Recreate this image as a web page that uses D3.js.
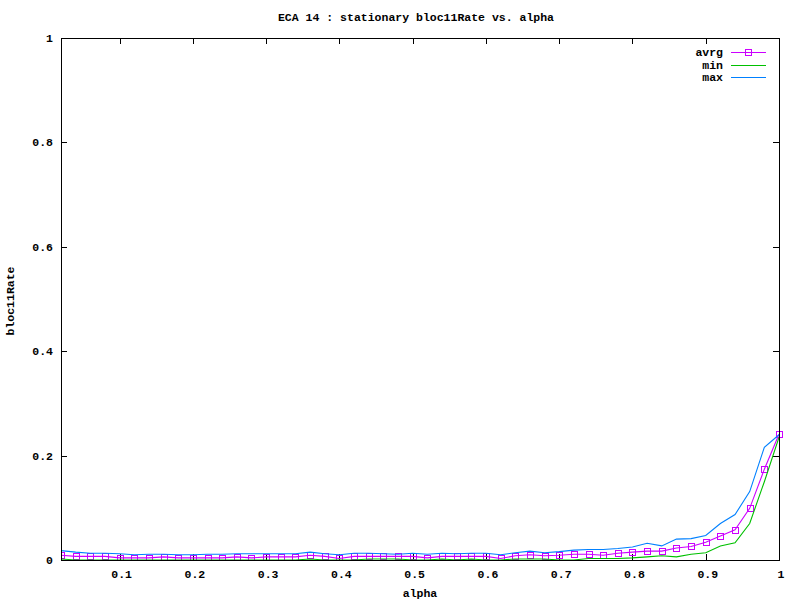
<!DOCTYPE html>
<html>
<head>
<meta charset="utf-8">
<script src="https://cdn.jsdelivr.net/npm/d3@7"></script>
<style>
  html, body { margin: 0; padding: 0; background: #fff; }
  svg text { font-family: "Liberation Mono", "DejaVu Sans Mono", monospace; font-weight: bold; font-size: 11.5px; fill: #000; }
</style>
</head>
<body>
<svg id="chart" width="800" height="600"></svg>
<script>
// ---- data ----
const alpha = [0.02,0.04,0.06,0.08,0.10,0.12,0.14,0.16,0.18,0.20,
               0.22,0.24,0.26,0.28,0.30,0.32,0.34,0.36,0.38,0.40,
               0.42,0.44,0.46,0.48,0.50,0.52,0.54,0.56,0.58,0.60,
               0.62,0.64,0.66,0.68,0.70,0.72,0.74,0.76,0.78,0.80,
               0.82,0.84,0.86,0.88,0.90,0.92,0.94,0.96,0.98,1.00];
const avrg = [0.009,0.007,0.007,0.007,0.004,0.004,0.004,0.006,0.004,0.004,
              0.004,0.004,0.006,0.004,0.006,0.006,0.006,0.009,0.007,0.003,
              0.007,0.007,0.007,0.007,0.007,0.004,0.007,0.007,0.007,0.007,
              0.003,0.008,0.010,0.008,0.009,0.011,0.011,0.009,0.013,0.015,
              0.017,0.017,0.023,0.026,0.034,0.046,0.058,0.099,0.174,0.241];
const minV = [0.002,0,0,0,0,0,0,0,0,0,
              0,0,0,0,0,0,0,0.002,0,0,
              0,0.002,0.002,0.002,0,0,0.002,0,0.002,0,
              0,0.002,0.002,0.002,0,0,0.003,0.003,0.003,0.004,
              0.006,0.008,0.006,0.011,0.014,0.027,0.033,0.070,0.150,0.235];
const maxV = [0.018,0.015,0.013,0.013,0.012,0.010,0.011,0.011,0.010,0.010,
              0.011,0.011,0.012,0.012,0.012,0.012,0.012,0.015,0.012,0.010,
              0.013,0.013,0.012,0.011,0.013,0.011,0.013,0.012,0.013,0.013,
              0.010,0.014,0.017,0.014,0.016,0.019,0.020,0.020,0.022,0.025,
              0.032,0.027,0.040,0.041,0.047,0.070,0.087,0.131,0.216,0.240];
const xTicks = [0.1,0.2,0.3,0.4,0.5,0.6,0.7,0.8,0.9,1];
const yTicks = [0,0.2,0.4,0.6,0.8,1];
const seriesNames = ["avrg","min","max"];
const seriesColors = ["#cc00ff","#00c000","#0080ff"];

// ---- layout ----
const L = 61, R = 779, T = 38, B = 560;
const svg = d3.select("#chart");
const x = d3.scaleLinear().domain([0.02, 1]).range([L, R]);
const y = d3.scaleLinear().domain([0, 1]).range([B, T]);
const tickLen = 6;
const ms = 7; // marker size

svg.append("defs").append("clipPath").attr("id","clip")
  .append("rect").attr("x", L).attr("y", T - 5).attr("width", R - L + 6).attr("height", B - T + 6);

// ticks (inward, mirrored)
const tg = svg.append("g").attr("stroke","#000").attr("stroke-width",1).attr("shape-rendering","crispEdges");
xTicks.forEach(t => {
  const px = Math.round(x(t)) + 0.5;
  tg.append("line").attr("x1",px).attr("x2",px).attr("y1",B).attr("y2",B - tickLen);
  tg.append("line").attr("x1",px).attr("x2",px).attr("y1",T).attr("y2",T + tickLen);
});
yTicks.forEach(t => {
  const py = Math.round(y(t)) + 0.5;
  tg.append("line").attr("x1",L).attr("x2",L + tickLen).attr("y1",py).attr("y2",py);
  tg.append("line").attr("x1",R).attr("x2",R - tickLen).attr("y1",py).attr("y2",py);
});

// tick labels
svg.append("g").selectAll("text").data(xTicks).join("text")
  .attr("x", d => x(d) + 2).attr("y", 578).attr("text-anchor","middle")
  .text(d => d3.format("")(d));
svg.append("g").selectAll("text").data(yTicks).join("text")
  .attr("x", 53).attr("y", d => y(d) + 4).attr("text-anchor","end")
  .text(d => d3.format("")(d));

// series
const plot = svg.append("g").attr("clip-path","url(#clip)");
const line = d3.line().x((d,i) => x(alpha[i])).y(d => y(d));
const seriesData = [avrg, minV, maxV];
seriesData.forEach((vals, k) => {
  plot.append("path").datum(vals)
    .attr("fill","none").attr("stroke", seriesColors[k]).attr("stroke-width",1.1)
    .attr("d", line);
  if (k === 0) {
    plot.append("g").selectAll("rect").data(vals).join("rect")
      .attr("x", (d,i) => Math.round(x(alpha[i])) - Math.floor(ms/2) + 0.5)
      .attr("y", d => Math.round(y(d)) - Math.floor(ms/2) + 0.5)
      .attr("width", ms - 1).attr("height", ms - 1)
      .attr("fill","none").attr("stroke", seriesColors[0]).attr("stroke-width",1)
      .attr("shape-rendering","crispEdges");
  }
});

// border
svg.append("rect").attr("x", L + 0.5).attr("y", T + 0.5).attr("width", R - L).attr("height", B - T)
  .attr("fill","none").attr("stroke","#000").attr("stroke-width",1).attr("shape-rendering","crispEdges");

// legend
const lg = svg.append("g");
seriesNames.forEach((name, k) => {
  const ly = Math.round(52 + k * 12.5);
  lg.append("text").attr("x", 723).attr("y", ly + 4).attr("text-anchor","end").text(name);
  lg.append("rect").attr("x", 731).attr("y", ly).attr("width", 35).attr("height", 1)
    .attr("fill", seriesColors[k]).attr("stroke","none");
  if (k === 0) {
    lg.append("rect").attr("x", 748 - Math.floor(ms/2) + 0.5).attr("y", ly - Math.floor(ms/2) + 0.5)
      .attr("width", ms - 1).attr("height", ms - 1)
      .attr("fill","none").attr("stroke", seriesColors[0]).attr("shape-rendering","crispEdges");
  }
});

// titles
svg.append("text").attr("x", 416).attr("y", 21).attr("text-anchor","middle")
  .text("ECA 14 : stationary bloc11Rate vs. alpha");
svg.append("text").attr("x", 420).attr("y", 597).attr("text-anchor","middle").text("alpha");
svg.append("text").attr("transform","translate(14,301) rotate(-90)").attr("text-anchor","middle").text("bloc11Rate");
</script>
</body>
</html>
